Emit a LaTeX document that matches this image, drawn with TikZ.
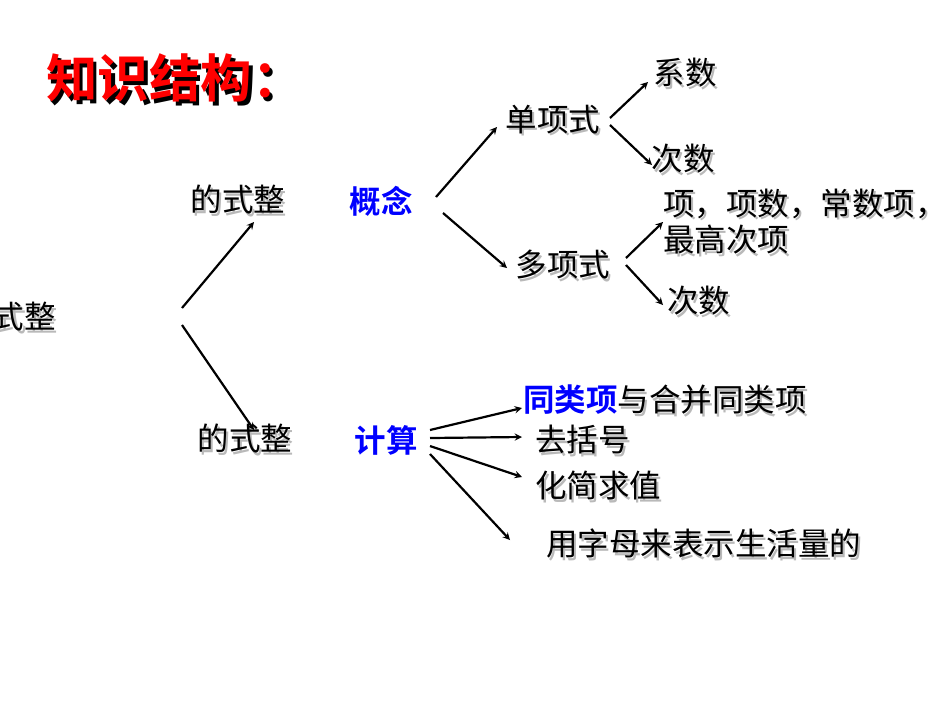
\documentclass[tikz,border=0pt]{standalone}
\usepackage{fontspec}
\newfontfamily\cjk{Noto Sans CJK SC}
\newfontfamily\cjkb{Noto Sans CJK SC Bold}
\newcommand\shd[2][gray!55]{\makebox[0pt][l]{\kern0.07em\raisebox{-0.07em}{\color{#1}#2}}#2}
\begin{document}
\begin{tikzpicture}[x=1pt,y=-1pt,
  txt/.style={inner sep=0pt,font=\cjk\fontsize{31.5}{33}\selectfont},
  blu/.style={inner sep=0pt,font=\cjkb\fontsize{31.5}{33}\selectfont,text=blue},
  arr/.style={-stealth,line width=2.2pt}]
\clip (0,0) rectangle (950,713);
\fill[white] (0,0) rectangle (950,713);
\node[inner sep=0pt,font=\cjkb\fontsize{51.5}{53}\selectfont,text=red,anchor=west] (title) at (46,80) {\shd[black]{知识结构：}};
\node[txt,anchor=east] (zs) at (56,318) {\shd{式整}};
\node[txt] (d1) at (238,201) {\shd{的式整}};
\node[txt] (d2) at (245,440) {\shd{的式整}};
\coordinate (z1) at (182,308); \coordinate (z2) at (182,325);
\coordinate (d1t) at (254,222); \coordinate (d2t) at (254,430);
\draw[arr] (z1) -- (d1t);
\draw[arr] (z2) -- (d2t);
\node[blu] (gn) at (381,201) {概念};
\node[blu] (js) at (386,440) {计算};
\node[txt] (dx) at (553,121) {\shd{单项式}};
\node[txt] (duo) at (563,266) {\shd{多项式}};
\coordinate (g1) at (436,197); \coordinate (g2) at (443,213);
\draw[arr] (g1) -- (497,127);
\draw[arr] (g2) -- (507,268);
\node[txt] (xs) at (685,74) {\shd{系数}};
\node[txt] (cs1) at (683,160) {\shd{次数}};
\draw[arr] (610,118) -- (648,82);
\draw[arr] (610,125) -- (652,165);
\node[txt,anchor=west] (xm) at (663,205) {\shd{项，项数，常数项，}};
\node[txt,anchor=west] (zg) at (663,241) {\shd{最高次项}};
\node[txt,anchor=west] (cs2) at (667,302) {\shd{次数}};
\draw[arr] (626,258) -- (663,222);
\draw[arr] (626,265) -- (663,305);
\node[txt,anchor=west] (t1) at (523,401) {{\cjkb\color{blue}同类项}\shd{与合并同类项}};
\node[txt,anchor=west] (t2) at (535,441) {\shd{去括号}};
\node[txt,anchor=west] (t3) at (535,487) {\shd{化简求值}};
\node[txt,anchor=west] (t4) at (546,545) {\shd{用字母来表示生活量的}};
\coordinate (j1) at (430,430); \coordinate (j2) at (430,438);
\coordinate (j3) at (430,446); \coordinate (j4) at (430,454);
\draw[arr] (j1) -- (522,408);
\draw[arr] (j2) -- (522,437);
\draw[arr] (j3) -- (522,477);
\draw[arr] (j4) -- (510,540);
\end{tikzpicture}
\end{document}
